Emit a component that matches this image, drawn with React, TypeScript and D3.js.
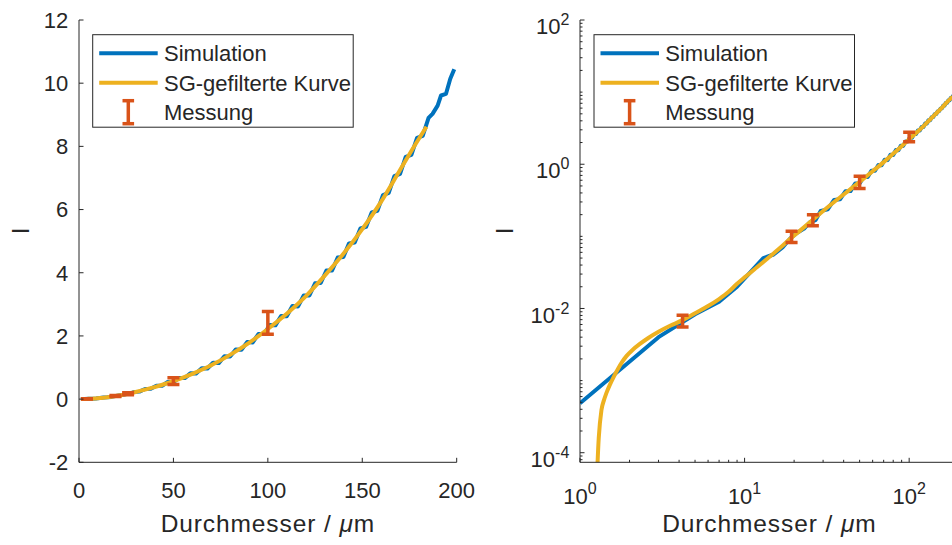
import React from 'react';
import * as d3 from 'd3';

// ---------- data ----------
const simD = [1, 3, 5, 7, 9, 11, 13, 15, 17, 19, 21, 23, 25, 27,
  29, 32, 35, 38, 41, 44, 47, 50, 53, 56, 59, 62, 65, 68, 71, 74, 77, 80, 83, 86, 89, 92, 95, 98,
  101, 104, 107, 110, 113, 116, 119, 122, 125, 128, 131, 134, 137, 140, 143, 146, 149, 152, 155,
  158, 161, 164, 167, 170, 173, 176, 179, 182, 185.1, 187.2, 189.9, 191.7, 194.3, 196.6, 198.7];
const simI = [0.000485, 0.004, 0.0083, 0.0124, 0.02, 0.033, 0.05, 0.056, 0.07, 0.094, 0.113, 0.128, 0.158, 0.168,
  0.225, 0.237, 0.32, 0.326, 0.422, 0.424, 0.54, 0.54, 0.67, 0.665, 0.815, 0.81, 0.975, 0.97, 1.15, 1.14,
  1.355, 1.345, 1.57, 1.56, 1.805, 1.795, 2.06, 2.06, 2.345, 2.335, 2.63, 2.62, 2.945, 2.935, 3.28, 3.28,
  3.665, 3.675, 4.07, 4.07, 4.48, 4.5, 4.93, 4.96, 5.4, 5.45, 5.91, 5.96, 6.46, 6.53, 7.06, 7.13, 7.67,
  7.73, 8.27, 8.33, 8.9, 9.03, 9.29, 9.61, 9.66, 10.14, 10.44];

const sgD = [1.0, 1.1, 1.2, 1.25, 1.3, 1.35, 1.4, 1.45, 1.52, 1.6, 1.7, 1.8, 1.92, 2.1, 2.3, 2.6, 3.0, 3.5, 4.2,
  5, 6, 7, 8, 9, 10, 11.5, 13, 15, 17, 19, 22, 26, 30, 35, 40, 45, 50, 60, 70, 80, 90, 100, 110, 120, 130, 140,
  150, 160, 170, 178, 184];
const sgI = [-0.0006, -0.0003, -0.00008, 0.00002, 0.00016, 0.00039, 0.00054, 0.00068, 0.00088, 0.00112, 0.00145,
  0.0018, 0.0022, 0.0027, 0.0032, 0.0039, 0.00475, 0.0057, 0.0069, 0.0086, 0.0108, 0.0135, 0.017, 0.022, 0.027,
  0.035, 0.044, 0.058, 0.074, 0.093, 0.123, 0.17, 0.225, 0.30, 0.38, 0.47, 0.57, 0.80, 1.07, 1.40, 1.78, 2.22,
  2.70, 3.25, 3.90, 4.60, 5.38, 6.25, 7.25, 8.05, 8.62];

const measD = [4.2, 19.3, 26, 50, 100];
const measI = [0.0068, 0.1, 0.17, 0.57, 2.41];
const measErr = [0.00125, 0.018, 0.03, 0.11, 0.36];

const linXTicks = [0, 50, 100, 150, 200];
const linYTicks = [-2, 0, 2, 4, 6, 8, 10, 12];
const logXExps = [0, 1, 2];
const logYExps = [-4, -2, 0, 2];
const legendLabels = ['Simulation', 'SG-gefilterte Kurve', 'Messung'];
const yLabelText = 'I';

// ---------- style ----------
const BLUE = '#0072BD';
const YELLOW = '#EDB120';
const ORANGE = '#D95319';
const INK = '#262626';
const FONT = "'Liberation Sans', Arial, Helvetica, sans-serif";
const LW = 4;

type Pt = { d: number; v: number };
const sim: Pt[] = simD.map((d, i) => ({ d, v: simI[i] }));
const sg: Pt[] = sgD.map((d, i) => ({ d, v: sgI[i] }));

function Legend({ x, y }: { x: number; y: number }) {
  const rows = [18.5, 48, 77.5];
  return (
    <g transform={`translate(${x},${y})`}>
      <rect x={0} y={0} width={260.5} height={92.5} fill="#fff" stroke={INK} strokeWidth={1} />
      <line x1={6.5} x2={65} y1={rows[0]} y2={rows[0]} stroke={BLUE} strokeWidth={LW} />
      <line x1={6.5} x2={65} y1={rows[1]} y2={rows[1]} stroke={YELLOW} strokeWidth={LW} />
      <g stroke={ORANGE} strokeWidth={3.5} fill="none">
        <line x1={35.6} x2={35.6} y1={rows[2] - 11.5} y2={rows[2] + 11.5} />
        <line x1={29.8} x2={41.4} y1={rows[2] - 11.5} y2={rows[2] - 11.5} />
        <line x1={29.8} x2={41.4} y1={rows[2] + 11.5} y2={rows[2] + 11.5} />
      </g>
      {legendLabels.map((t, i) => (
        <text key={t} x={71.3} y={rows[i] + 8} fontSize={22} fontFamily={FONT} fill={INK}>{t}</text>
      ))}
    </g>
  );
}

function ErrorBars({ xs, ys }: { xs: (n: number) => number; ys: (n: number) => number }) {
  const cw = 6;
  return (
    <g stroke={ORANGE} strokeWidth={3.5} fill="none">
      {measD.map((d, i) => {
        const cx = xs(d);
        const lo = ys(measI[i] - measErr[i]);
        const hi = ys(measI[i] + measErr[i]);
        return (
          <g key={i}>
            <line x1={cx} x2={cx} y1={lo} y2={hi} />
            <line x1={cx - cw} x2={cx + cw} y1={lo} y2={lo} />
            <line x1={cx - cw} x2={cx + cw} y1={hi} y2={hi} />
          </g>
        );
      })}
    </g>
  );
}

function XLabel({ cx }: { cx: number }) {
  return (
    <text x={cx} y={532} textAnchor="middle" fontSize={24.5} letterSpacing={0.9} fontFamily={FONT} fill={INK}>
      Durchmesser / <tspan fontStyle="italic">μ</tspan>m
    </text>
  );
}

function YLabel({ x }: { x: number }) {
  return (
    <text transform={`translate(${x},231) rotate(-90)`} textAnchor="middle" fontSize={24} fontFamily={FONT} fill={INK}>
      {yLabelText}
    </text>
  );
}

function LinPanel() {
  const x0 = 79, x1 = 456.7, yb = 462.3, yt = 20;
  const xs = d3.scaleLinear().domain([0, 200]).range([x0, x1]);
  const ys = d3.scaleLinear().domain([-2, 12]).range([yb, yt]);
  const line = d3.line<Pt>().x(p => xs(p.d)).y(p => ys(p.v));
  const sgLine = d3.line<Pt>().x(p => xs(p.d)).y(p => ys(p.v)).curve(d3.curveMonotoneX);
  return (
    <g>
      <defs>
        <clipPath id="clipL"><rect x={x0} y={yt} width={x1 - x0} height={yb - yt} /></clipPath>
      </defs>
      <g clipPath="url(#clipL)">
        <path d={line(sim) || ''} fill="none" stroke={BLUE} strokeWidth={LW} strokeLinejoin="round" />
        <path d={sgLine(sg) || ''} fill="none" stroke={YELLOW} strokeWidth={LW} strokeLinejoin="round" />
        <ErrorBars xs={xs} ys={ys} />
      </g>
      <g stroke={INK} strokeWidth={1} fill="none">
        <line x1={x0} x2={x0} y1={yt} y2={yb} />
        <line x1={x0} x2={x1} y1={yb} y2={yb} />
        {linYTicks.map(t => <line key={'y' + t} x1={x0} x2={x0 + 4.5} y1={ys(t)} y2={ys(t)} />)}
        {linXTicks.map(t => <line key={'x' + t} x1={xs(t)} x2={xs(t)} y1={yb} y2={yb - 4.5} />)}
      </g>
      {linYTicks.map(t => (
        <text key={'yl' + t} x={68.3} y={ys(t)} dy="0.36em" textAnchor="end" fontSize={22} fontFamily={FONT} fill={INK}>{t}</text>
      ))}
      {linXTicks.map(t => (
        <text key={'xl' + t} x={xs(t)} y={498.3} textAnchor="middle" fontSize={22} fontFamily={FONT} fill={INK}>{t}</text>
      ))}
      <XLabel cx={(x0 + x1) / 2} />
      <YLabel x={29} />
      <Legend x={92.7} y={34.7} />
    </g>
  );
}

function LogPanel() {
  const x0 = 580, x1 = 958.7, yb = 462.3, yt = 20;
  const xs = d3.scaleLog().domain([1, 200]).range([x0, x1]);
  const ys = d3.scaleLog().domain([Math.pow(10, -4.133), 100]).range([yb, yt]);
  const line = d3.line<Pt>().defined(p => p.v > 0).x(p => xs(p.d)).y(p => ys(p.v));
  const sgLine = d3.line<Pt>().defined(p => p.v > 0).x(p => xs(p.d)).y(p => ys(p.v)).curve(d3.curveMonotoneX);
  const xMinor: number[] = [];
  for (let e = 0; e <= 2; e++) for (let k = 1; k <= 9; k++) {
    const v = k * Math.pow(10, e);
    if (v <= 200 && !(k === 1 && logXExps.includes(e))) xMinor.push(v);
  }
  const yMinor: number[] = [];
  for (let e = -5; e <= 2; e++) for (let k = 1; k <= 9; k++) {
    const v = k * Math.pow(10, e);
    const [lo, hi] = ys.domain();
    if (v >= lo && v <= hi && !(k === 1 && logYExps.includes(e))) yMinor.push(v);
  }
  return (
    <g>
      <defs>
        <clipPath id="clipR"><rect x={x0} y={yt} width={x1 - x0} height={yb - yt} /></clipPath>
      </defs>
      <g clipPath="url(#clipR)">
        <path d={line(sim) || ''} fill="none" stroke={BLUE} strokeWidth={LW} strokeLinejoin="round" />
        <path d={sgLine(sg) || ''} fill="none" stroke={YELLOW} strokeWidth={LW} strokeLinejoin="round" />
        <ErrorBars xs={xs} ys={ys} />
      </g>
      <g stroke={INK} strokeWidth={1} fill="none">
        <line x1={x0} x2={x0} y1={yt} y2={yb} />
        <line x1={x0} x2={x1} y1={yb} y2={yb} />
        {logYExps.map(e => <line key={'ym' + e} x1={x0} x2={x0 + 4.5} y1={ys(Math.pow(10, e))} y2={ys(Math.pow(10, e))} />)}
        {yMinor.map((v, i) => <line key={'yn' + i} x1={x0} x2={x0 + 2.5} y1={ys(v)} y2={ys(v)} />)}
        {logXExps.map(e => <line key={'xm' + e} x1={xs(Math.pow(10, e))} x2={xs(Math.pow(10, e))} y1={yb} y2={yb - 4.5} />)}
        {xMinor.map((v, i) => <line key={'xn' + i} x1={xs(v)} x2={xs(v)} y1={yb} y2={yb - 2.5} />)}
      </g>
      {logYExps.map(e => (
        <text key={'yl' + e} x={569.3} y={ys(Math.pow(10, e)) + 14.2} textAnchor="end" fontSize={22} fontFamily={FONT} fill={INK}>
          10<tspan fontSize={16} dy={-9}>{e}</tspan>
        </text>
      ))}
      {logXExps.map(e => (
        <text key={'xl' + e} x={xs(Math.pow(10, e))} y={504} textAnchor="middle" fontSize={22} fontFamily={FONT} fill={INK}>
          10<tspan fontSize={16} dy={-10}>{e}</tspan>
        </text>
      ))}
      <XLabel cx={(x0 + x1) / 2} />
      <YLabel x={513} />
      <Legend x={594} y={34.7} />
    </g>
  );
}

export default function App() {
  return (
    <svg width={952} height={545} style={{ position: 'fixed', left: 0, top: 0, background: '#fff' }}>
      <rect x={0} y={0} width={952} height={545} fill="#fff" />
      <LinPanel />
      <LogPanel />
    </svg>
  );
}
